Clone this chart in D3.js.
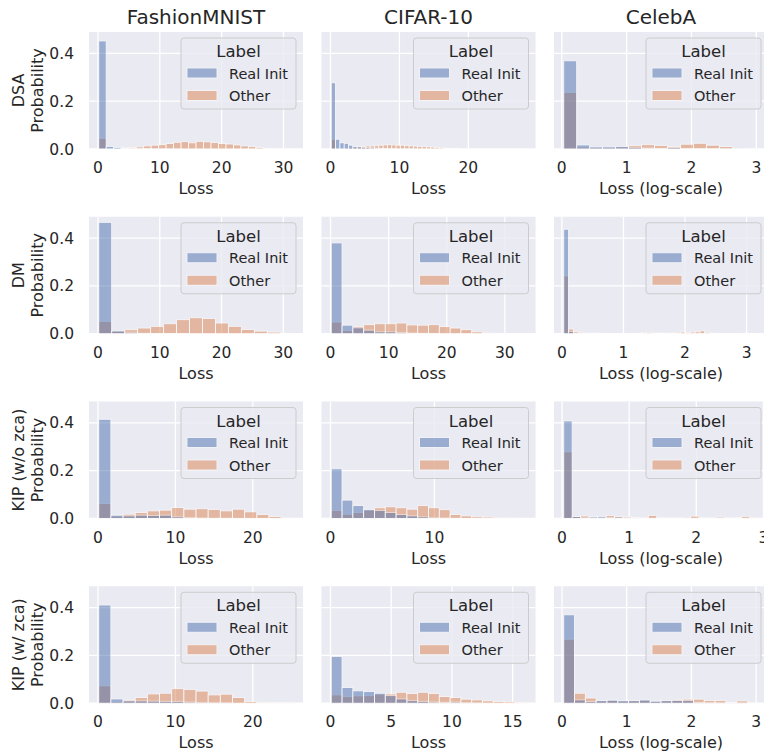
<!DOCTYPE html>
<html><head><meta charset="utf-8">
<script src="https://cdn.jsdelivr.net/npm/d3@7"></script>
<style>body{margin:0;background:#fff;}svg{display:block;font-family:"DejaVu Sans",sans-serif;}</style>
</head><body>
<svg id="c" width="764" height="755"></svg>
<script>
const methods = ["DSA", "DM", "KIP (w/o zca)", "KIP (w/ zca)"];
const datasets = ["FashionMNIST", "CIFAR-10", "CelebA"];
const xLabels = ["Loss", "Loss", "Loss (log-scale)"];
const hueLabels = ["Real Init", "Other"];
const yTicks = [0, 0.2, 0.4];

// bin start / bin width per panel (row-major: method x dataset)
const binStart = [[0.12, 0.11, 0.03], [0.12, 0.12, 0.03], [0.1, 0.07, 0.025], [0.1, 0.06, 0.027]];
const binWidth = [[1.21, 0.627, 0.2], [2.1, 1.86, 0.079], [1.57, 1.04, 0.126], [1.57, 0.89, 0.167]];
const xTicks = [
  [[0, 10, 20, 30], [0, 10, 20], [0, 1, 2, 3]],
  [[0, 10, 20, 30], [0, 10, 20, 30], [0, 1, 2, 3]],
  [[0, 10, 20], [0, 10], [0, 1, 2, 3]],
  [[0, 10, 20], [0, 5, 10, 15], [0, 1, 2, 3]]
];

// DSA
const dsaFmnistReal = [0.452, 0.011, 0.007, 0.004, 0.003, 0.002, 0.002, 0.001, 0.001, 0.001, 0.0005, 0, 0, 0, 0, 0, 0, 0, 0, 0, 0, 0, 0, 0, 0, 0];
const dsaFmnistOther = [0.045, 0.002, 0.003, 0.004, 0.006, 0.009, 0.013, 0.016, 0.018, 0.023, 0.028, 0.031, 0.026, 0.032, 0.030, 0.027, 0.023, 0.021, 0.017, 0.013, 0.010, 0.006, 0.003, 0.001, 0.0005, 0.0003];
const dsaCifarReal = [0.277, 0.041, 0.026, 0.024, 0.016, 0.010, 0.009, 0.007, 0.006, 0.005, 0.004, 0.003, 0.003, 0.002, 0.002, 0.001, 0.001, 0.001, 0.001, 0.0005, 0, 0, 0, 0, 0, 0, 0, 0, 0, 0, 0, 0, 0, 0, 0, 0, 0, 0, 0, 0, 0, 0, 0, 0, 0];
const dsaCifarOther = [0.041, 0.003, 0.004, 0.005, 0.006, 0.008, 0.010, 0.011, 0.013, 0.013, 0.014, 0.016, 0.017, 0.018, 0.017, 0.016, 0.016, 0.014, 0.013, 0.012, 0.011, 0.010, 0.009, 0.008, 0.006, 0.005, 0.004, 0.003, 0.002, 0.002, 0.001, 0.001, 0.0005, 0, 0, 0, 0, 0, 0, 0, 0, 0, 0, 0, 0];
const dsaCelebaReal = [0.369, 0.017, 0.009, 0.009, 0.011, 0.007, 0.004, 0.003, 0.006, 0.002, 0.002, 0.002, 0.001, 0.001, 0];
const dsaCelebaOther = [0.237, 0.008, 0.006, 0.007, 0.008, 0.014, 0.018, 0.015, 0.010, 0.020, 0.024, 0.016, 0.010, 0, 0];
// DM
const dmFmnistReal = [0.466, 0.012, 0.006, 0.002, 0.001, 0.001, 0.001, 0, 0, 0, 0, 0, 0, 0, 0];
const dmFmnistOther = [0.052, 0.011, 0.017, 0.024, 0.031, 0.042, 0.059, 0.067, 0.064, 0.045, 0.031, 0.018, 0.011, 0.007, 0.002];
const dmCifarReal = [0.380, 0.036, 0.025, 0.015, 0.008, 0.008, 0.005, 0.003, 0.002, 0.001, 0, 0, 0, 0, 0, 0, 0, 0];
const dmCifarOther = [0.049, 0.014, 0.030, 0.038, 0.042, 0.042, 0.045, 0.037, 0.036, 0.038, 0.030, 0.024, 0.017, 0.008, 0.004, 0.002, 0.001, 0.0005];
const dmCelebaReal = [0.437, 0.010, 0.004, 0.002, 0.001, 0.004, 0.003, 0.001, 0.001, 0.001, 0, 0, 0.001, 0, 0, 0, 0.001, 0, 0, 0, 0, 0, 0, 0.001, 0, 0, 0, 0, 0.001, 0, 0, 0, 0, 0, 0, 0, 0, 0, 0, 0];
const dmCelebaOther = [0.242, 0.020, 0.010, 0.006, 0.004, 0.003, 0.004, 0.002, 0.002, 0.001, 0.001, 0.001, 0.002, 0.001, 0.002, 0.002, 0.005, 0.006, 0.004, 0.003, 0.002, 0.004, 0.003, 0.006, 0.007, 0.005, 0.007, 0.008, 0.012, 0.006, 0.004, 0.002, 0.001, 0.001, 0.001, 0.001, 0.001, 0.003, 0.001, 0.001];
// KIP (w/o zca)
const kip1FmnistReal = [0.415, 0.014, 0.011, 0.014, 0.013, 0.014, 0.007, 0.004, 0.002, 0.001, 0.001, 0, 0, 0, 0, 0];
const kip1FmnistOther = [0.063, 0.010, 0.018, 0.025, 0.032, 0.035, 0.046, 0.039, 0.041, 0.038, 0.032, 0.039, 0.028, 0.017, 0.008, 0.003];
const kip1CifarReal = [0.208, 0.077, 0.054, 0.038, 0.034, 0.025, 0.017, 0.011, 0.007, 0.003, 0.002, 0.001, 0, 0, 0, 0, 0, 0];
const kip1CifarOther = [0.034, 0.018, 0.025, 0.035, 0.045, 0.049, 0.045, 0.039, 0.054, 0.045, 0.037, 0.017, 0.011, 0.007, 0.006, 0.003, 0.001, 0.0005];
const kip1CelebaReal = [0.408, 0.008, 0.005, 0.006, 0.007, 0.004, 0.006, 0.004, 0.002, 0.001, 0.001, 0.001, 0.001, 0.001, 0.001, 0.001, 0.001, 0.001, 0.001, 0.001, 0.001, 0.001, 0.001];
const kip1CelebaOther = [0.279, 0.008, 0.011, 0.006, 0.005, 0.012, 0.009, 0.007, 0.004, 0.003, 0.013, 0.004, 0.002, 0.002, 0.005, 0.010, 0.004, 0.002, 0.006, 0.002, 0.004, 0.009, 0.003];
// KIP (w/ zca)
const kip2FmnistReal = [0.411, 0.018, 0.010, 0.010, 0.009, 0.008, 0.008, 0.005, 0.002, 0.001, 0.001, 0, 0, 0, 0, 0];
const kip2FmnistOther = [0.073, 0.006, 0.013, 0.024, 0.039, 0.042, 0.061, 0.058, 0.051, 0.035, 0.038, 0.024, 0.007, 0.002, 0.001, 0.001];
const kip2CifarReal = [0.196, 0.066, 0.052, 0.049, 0.042, 0.032, 0.018, 0.011, 0.008, 0.005, 0.004, 0.005, 0.002, 0.001, 0, 0, 0, 0];
const kip2CifarOther = [0.035, 0.028, 0.031, 0.032, 0.038, 0.039, 0.046, 0.041, 0.046, 0.041, 0.028, 0.024, 0.017, 0.014, 0.010, 0.007, 0.006, 0.002];
const kip2CelebaReal = [0.370, 0.014, 0.007, 0.011, 0.013, 0.011, 0.011, 0.014, 0.009, 0.011, 0.012, 0.011, 0.004, 0.002, 0.001, 0.001, 0.001, 0];
const kip2CelebaOther = [0.268, 0.042, 0.022, 0.010, 0.012, 0.008, 0.010, 0.012, 0.008, 0.010, 0.013, 0.017, 0.017, 0.011, 0.011, 0.002, 0.010, 0];

const realVals = [[dsaFmnistReal, dsaCifarReal, dsaCelebaReal], [dmFmnistReal, dmCifarReal, dmCelebaReal], [kip1FmnistReal, kip1CifarReal, kip1CelebaReal], [kip2FmnistReal, kip2CifarReal, kip2CelebaReal]];
const otherVals = [[dsaFmnistOther, dsaCifarOther, dsaCelebaOther], [dmFmnistOther, dmCifarOther, dmCelebaOther], [kip1FmnistOther, kip1CifarOther, kip1CelebaOther], [kip2FmnistOther, kip2CifarOther, kip2CelebaOther]];

const colors = ["#4c72b0", "#dd8452"];
const ink = "#262626";
const svg = d3.select("#c");
const colLeft = [89, 321.5, 554];
const W = 214;
const rowTop = [32, 216.75, 401.5, 586.25];
const H = 117;
const ymax = d3.max(realVals.flat().concat(otherVals.flat()).map(a => d3.max(a))) * 1.05;

methods.forEach((m, r) => {
  datasets.forEach((ds, c) => {
    const x0 = colLeft[c], y0 = rowTop[r];
    const start = binStart[r][c], w = binWidth[r][c];
    const n = realVals[r][c].length;
    const R = n * w;
    const x = d3.scaleLinear().domain([start - 0.05 * R, start + 1.05 * R]).range([x0, x0 + W]);
    const y = d3.scaleLinear().domain([0, ymax]).range([y0 + H, y0]);
    const g = svg.append("g");
    g.append("rect").attr("x", x0).attr("y", y0).attr("width", W).attr("height", H).attr("fill", "#eaeaf2");
    // grid
    g.selectAll(".gy").data(yTicks).join("line")
      .attr("x1", x0).attr("x2", x0 + W).attr("y1", d => y(d)).attr("y2", d => y(d))
      .attr("stroke", "#fff").attr("stroke-width", 1.3);
    g.selectAll(".gx").data(xTicks[r][c]).join("line")
      .attr("x1", d => x(d)).attr("x2", d => x(d)).attr("y1", y0).attr("y2", y0 + H)
      .attr("stroke", "#fff").attr("stroke-width", 1.3);
    // bars: Other first, Real Init on top
    [otherVals[r][c], realVals[r][c]].forEach((vals, k) => {
      const col = k === 0 ? colors[1] : colors[0];
      g.append("g").selectAll("rect").data(vals.map((v, i) => ({v, i})).filter(d => d.v > 0)).join("rect")
        .attr("x", d => x(start + d.i * w)).attr("width", d => x(start + (d.i + 1) * w) - x(start + d.i * w))
        .attr("y", d => y(d.v)).attr("height", d => y(0) - y(d.v))
        .attr("fill", col).attr("stroke", "#fff").attr("stroke-width", 0.9).attr("opacity", 0.5);
    });
    // x tick labels
    g.selectAll(".xt").data(xTicks[r][c]).join("text")
      .attr("x", d => x(d)).attr("y", y0 + H + 24).attr("text-anchor", "middle")
      .attr("font-size", 15.5).attr("fill", ink).text(d => d);
    g.append("text").attr("x", x0 + W / 2).attr("y", y0 + H + 45).attr("text-anchor", "middle")
      .attr("font-size", 16).attr("fill", ink).text(xLabels[c]);
    if (c === 0) {
      g.selectAll(".yt").data(yTicks).join("text")
        .attr("x", x0 - 15).attr("y", d => y(d) + 5.5).attr("text-anchor", "end")
        .attr("font-size", 15.5).attr("fill", ink).text(d => d3.format(".1f")(d));
      const yc = y0 + H / 2;
      g.append("text").attr("transform", `translate(${24},${yc}) rotate(-90)`).attr("text-anchor", "middle")
        .attr("font-size", 16).attr("fill", ink).text(m);
      g.append("text").attr("transform", `translate(${43},${yc}) rotate(-90)`).attr("text-anchor", "middle")
        .attr("font-size", 16).attr("fill", ink).text("Probability");
    }
    if (r === 0) {
      g.append("text").attr("x", x0 + W / 2).attr("y", 24).attr("text-anchor", "middle")
        .attr("font-size", 20).attr("fill", ink).text(ds);
    }
    // legend
    const lx = x0 + W - 7 - 115, ly = y0 + 6;
    const lg = g.append("g").attr("transform", `translate(${lx},${ly})`);
    lg.append("rect").attr("width", 115).attr("height", 71).attr("rx", 3)
      .attr("fill", "#eaeaf2").attr("fill-opacity", 0.8).attr("stroke", "#cccccc").attr("stroke-width", 1);
    lg.append("text").attr("x", 57.5).attr("y", 19).attr("text-anchor", "middle")
      .attr("font-size", 16.5).attr("fill", ink).text("Label");
    hueLabels.forEach((h, k) => {
      lg.append("rect").attr("x", 6).attr("y", 30 + k * 22.5).attr("width", 30).attr("height", 10)
        .attr("fill", colors[k]).attr("opacity", 0.5).attr("stroke", "#fff").attr("stroke-width", 0.9);
      lg.append("text").attr("x", 48).attr("y", 40.5 + k * 22.5).attr("font-size", 14.5).attr("fill", ink).text(h);
    });
  });
});
</script>
</body></html>
